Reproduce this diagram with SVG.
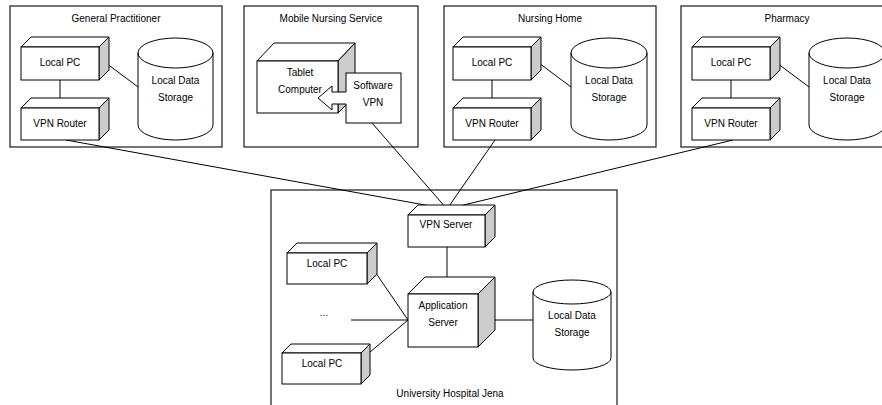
<svg xmlns="http://www.w3.org/2000/svg" width="882" height="405" viewBox="0 0 882 405">
  <style>
    .frame { fill: #ffffff; stroke: #1a1a1a; stroke-width: 1.2; }
    .face { fill: #ffffff; stroke: #000000; stroke-width: 1; stroke-linejoin: miter; }
    .side { fill: #cccccc; stroke: #000000; stroke-width: 1; }
    .wire { fill: none; stroke: #000000; stroke-width: 1; }
    text { font-family: "Liberation Sans", Arial, sans-serif; font-size: 10px; fill: #000000; text-anchor: middle; }
  </style>
  <rect width="882" height="405" fill="#ffffff"/>

  <!-- site frames -->
  <g id="site-gp"><rect class="frame" x="10" y="6" width="212" height="141"/><text x="116" y="22">General Practitioner</text></g>
  <g id="site-mobile"><rect class="frame" x="244" y="6" width="174" height="141"/><text x="331" y="22">Mobile Nursing Service</text></g>
  <g id="site-nursing"><rect class="frame" x="444" y="6" width="212" height="141"/><text x="550" y="22">Nursing Home</text></g>
  <g id="site-pharmacy"><rect class="frame" x="681" y="6" width="215" height="141"/><text x="787" y="22">Pharmacy</text></g>
  <g id="site-hospital"><rect class="frame" x="271" y="190" width="346" height="225"/><text x="450" y="397">University Hospital Jena</text></g>

  <!-- connectors -->
  <g id="connectors">
    <line class="wire" x1="60" y1="80" x2="60" y2="98"/>
    <line class="wire" x1="102" y1="60" x2="138" y2="87"/>
    <line class="wire" x1="492" y1="80" x2="492" y2="98"/>
    <line class="wire" x1="535" y1="60" x2="571" y2="87"/>
    <line class="wire" x1="731" y1="80" x2="731" y2="98"/>
    <line class="wire" x1="773" y1="60" x2="809" y2="87"/>
    <line class="wire" x1="66" y1="140" x2="447" y2="209"/>
    <line class="wire" x1="372" y1="123" x2="447" y2="209"/>
    <line class="wire" x1="495" y1="140" x2="447" y2="209"/>
    <line class="wire" x1="733" y1="140" x2="447" y2="209"/>
    <line class="wire" x1="447" y1="247" x2="447" y2="285"/>
    <line class="wire" x1="487" y1="320" x2="533" y2="320"/>
    <line class="wire" x1="369" y1="263" x2="408" y2="320"/>
    <line class="wire" x1="351" y1="320" x2="408" y2="320"/>
    <line class="wire" x1="363" y1="358" x2="408" y2="320"/>
  </g>

  <!-- General Practitioner -->
  <g id="gp-pc">
    <path class="face" d="M21,47 L31,37 H109 L99,47 Z"/>
    <path class="side" d="M99,47 L109,37 V70 L99,80 Z"/>
    <rect class="face" x="21" y="47" width="78" height="33"/>
    <text x="60" y="66">Local PC</text>
  </g>
  <g id="gp-router">
    <path class="face" d="M21,108 L31,98 H109 L99,108 Z"/>
    <path class="side" d="M99,108 L109,98 V130 L99,140 Z"/>
    <rect class="face" x="21" y="108" width="78" height="32"/>
    <text x="60" y="127">VPN Router</text>
  </g>
  <g id="gp-storage">
    <path class="face" d="M138,53 A37.5,15 0 0 1 213,53 V125 A37.5,15 0 0 1 138,125 Z"/>
    <path class="wire" d="M138,53 A37.5,15 0 0 0 213,53"/>
    <text x="175.5" y="84">Local Data</text>
    <text x="175.5" y="101">Storage</text>
  </g>

  <!-- Mobile Nursing Service -->
  <g id="mobile-tablet">
    <path class="face" d="M257,61 L274,43 H355 L338,61 Z"/>
    <path class="side" d="M338,61 L355,43 V96 L338,113 Z"/>
    <rect class="face" x="257" y="61" width="81" height="52"/>
    <text x="300" y="76">Tablet</text>
    <text x="300" y="93">Computer</text>
  </g>
  <g id="mobile-vpn">
    <rect class="face" x="346" y="73" width="55" height="50"/>
    <path d="M347,92 H332 V86 L318,98 L332,110 V104 H347 Z" fill="#ffffff" stroke="none"/>
    <path class="wire" d="M346,92 H332 V86 L318,98 L332,110 V104 H346"/>
    <text x="373" y="89">Software</text>
    <text x="373" y="106">VPN</text>
  </g>

  <!-- Nursing Home -->
  <g id="nh-pc">
    <path class="face" d="M453,47 L463,37 H541 L531,47 Z"/>
    <path class="side" d="M531,47 L541,37 V70 L531,80 Z"/>
    <rect class="face" x="453" y="47" width="78" height="33"/>
    <text x="492" y="66">Local PC</text>
  </g>
  <g id="nh-router">
    <path class="face" d="M453,108 L463,98 H541 L531,108 Z"/>
    <path class="side" d="M531,108 L541,98 V130 L531,140 Z"/>
    <rect class="face" x="453" y="108" width="78" height="32"/>
    <text x="492" y="127">VPN Router</text>
  </g>
  <g id="nh-storage">
    <path class="face" d="M571,53 A38,15 0 0 1 647,53 V125 A38,15 0 0 1 571,125 Z"/>
    <path class="wire" d="M571,53 A38,15 0 0 0 647,53"/>
    <text x="609" y="84">Local Data</text>
    <text x="609" y="101">Storage</text>
  </g>

  <!-- Pharmacy -->
  <g id="ph-pc">
    <path class="face" d="M692,47 L702,37 H780 L770,47 Z"/>
    <path class="side" d="M770,47 L780,37 V70 L770,80 Z"/>
    <rect class="face" x="692" y="47" width="78" height="33"/>
    <text x="731" y="66">Local PC</text>
  </g>
  <g id="ph-router">
    <path class="face" d="M692,108 L702,98 H780 L770,108 Z"/>
    <path class="side" d="M770,108 L780,98 V130 L770,140 Z"/>
    <rect class="face" x="692" y="108" width="78" height="32"/>
    <text x="731" y="127">VPN Router</text>
  </g>
  <g id="ph-storage">
    <path class="face" d="M809,53 A38,15 0 0 1 885,53 V125 A38,15 0 0 1 809,125 Z"/>
    <path class="wire" d="M809,53 A38,15 0 0 0 885,53"/>
    <text x="847" y="84">Local Data</text>
    <text x="847" y="101">Storage</text>
  </g>

  <!-- University Hospital Jena -->
  <g id="uh-vpn-server">
    <path class="face" d="M408,215 L418,205 H495 L485,215 Z"/>
    <path class="side" d="M485,215 L495,205 V237 L485,247 Z"/>
    <rect class="face" x="408" y="215" width="77" height="32"/>
    <text x="446" y="228">VPN Server</text>
  </g>
  <g id="uh-app-server">
    <path class="face" d="M408,294 L425,277 H495 L478,294 Z"/>
    <path class="side" d="M478,294 L495,277 V330 L478,347 Z"/>
    <rect class="face" x="408" y="294" width="70" height="53"/>
    <text x="443" y="309">Application</text>
    <text x="443" y="326">Server</text>
  </g>
  <g id="uh-pc-1">
    <path class="face" d="M287,253 L297,243 H377 L367,253 Z"/>
    <path class="side" d="M367,253 L377,243 V274 L367,284 Z"/>
    <rect class="face" x="287" y="253" width="80" height="31"/>
    <text x="327" y="267">Local PC</text>
  </g>
  <g id="uh-pc-more"><text x="324" y="316">...</text></g>
  <g id="uh-pc-2">
    <path class="face" d="M282,353 L291,344 H370 L361,353 Z"/>
    <path class="side" d="M361,353 L370,344 V375 L361,384 Z"/>
    <rect class="face" x="282" y="353" width="79" height="31"/>
    <text x="322" y="367">Local PC</text>
  </g>
  <g id="uh-storage">
    <path class="face" d="M533,292 A39,12 0 0 1 611,292 V358 A39,12 0 0 1 533,358 Z"/>
    <path class="wire" d="M533,292 A39,12 0 0 0 611,292"/>
    <text x="572" y="319">Local Data</text>
    <text x="572" y="336">Storage</text>
  </g>
</svg>
